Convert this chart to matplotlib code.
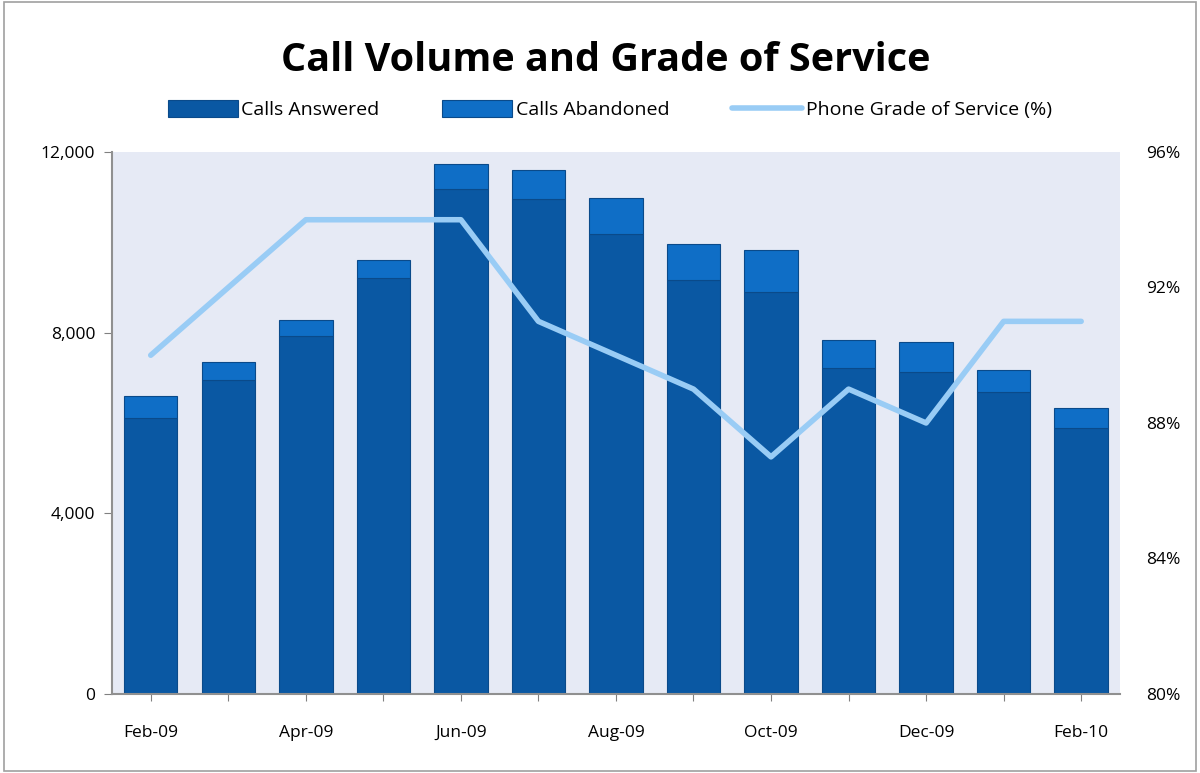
import matplotlib.pyplot as plt
import numpy as np
from matplotlib.ticker import FuncFormatter

# data
months = ["Feb-09", "Mar-09", "Apr-09", "May-09", "Jun-09", "Jul-09", "Aug-09",
          "Sep-09", "Oct-09", "Nov-09", "Dec-09", "Jan-10", "Feb-10"]
calls_answered = [6100, 6950, 7930, 9200, 11180, 10960, 10180, 9170, 8900, 7220, 7130, 6690, 5890]
calls_total = [6600, 7350, 8280, 9610, 11730, 11600, 10980, 9960, 9830, 7840, 7790, 7170, 6330]
grade_of_service = [90, 92, 94, 94, 94, 91, 90, 89, 87, 89, 88, 91, 91]

calls_abandoned = [t - a for t, a in zip(calls_total, calls_answered)]

plt.rcParams['font.family'] = ['Open Sans', 'DejaVu Sans']

fig = plt.figure(figsize=(12, 7.73), dpi=100)
ax = fig.add_axes([0.0933, 0.1022, 0.84, 0.7012])
ax.set_facecolor('#E6EAF5')

x = np.arange(len(months))
c_ans = '#0A58A3'
c_ab = '#0F6EC6'
ax.bar(x, calls_answered, width=0.69, color=c_ans, edgecolor='#0A4A8A', linewidth=0.8,
       label='Calls Answered', zorder=2)
ax.bar(x, calls_abandoned, width=0.69, bottom=calls_answered, color=c_ab,
       edgecolor='#0A4A8A', linewidth=0.8, label='Calls Abandoned', zorder=2)

ax.set_xlim(-0.5, len(months) - 0.5)
ax.set_ylim(0, 12000)
ax.set_yticks([0, 4000, 8000, 12000])
ax.yaxis.set_major_formatter(FuncFormatter(lambda v, p: f"{int(v):,}"))
ax.set_xticks(x)
ax.set_xticklabels([m if i % 2 == 0 else "" for i, m in enumerate(months)])
ax.tick_params(axis='x', direction='inout', length=10, color='#808080', pad=17, labelsize=12.5)
ax.tick_params(axis='y', direction='out', length=6, color='#808080', labelsize=12.5, pad=6)
for s in ['top', 'right']:
    ax.spines[s].set_visible(False)
for s in ['left', 'bottom']:
    ax.spines[s].set_color('#909090')
    ax.spines[s].set_linewidth(1.5)

ax2 = ax.twinx()
ax2.plot(x, grade_of_service, color='#99CCF5', linewidth=4, solid_capstyle='round',
         label='Phone Grade of Service (%)', zorder=3)
ax2.set_ylim(80, 96)
ax2.set_yticks([80, 84, 88, 92, 96])
ax2.yaxis.set_major_formatter(FuncFormatter(lambda v, p: f"{int(v)}%"))
ax2.tick_params(axis='y', length=0, labelsize=12.5, pad=19)
for s in ['top', 'right', 'left', 'bottom']:
    ax2.spines[s].set_visible(False)

fig.text(0.505, 0.922, "Call Volume and Grade of Service", ha='center', va='center',
         fontsize=28.5, fontweight='bold')

h1, l1 = ax.get_legend_handles_labels()
h2, l2 = ax2.get_legend_handles_labels()
fig.legend(h1 + h2, l1 + l2, loc='center', bbox_to_anchor=(0.508, 0.858), ncol=3,
           frameon=False, fontsize=14, handlelength=3.6, handleheight=0.9,
           handletextpad=0.2, columnspacing=3.2)

border = plt.Rectangle((0.003, 0.003), 0.994, 0.994, transform=fig.transFigure,
                       fill=False, edgecolor='#A0A0A0', linewidth=1.2)
fig.patches.append(border)

fig.savefig('out.png', dpi=100)
